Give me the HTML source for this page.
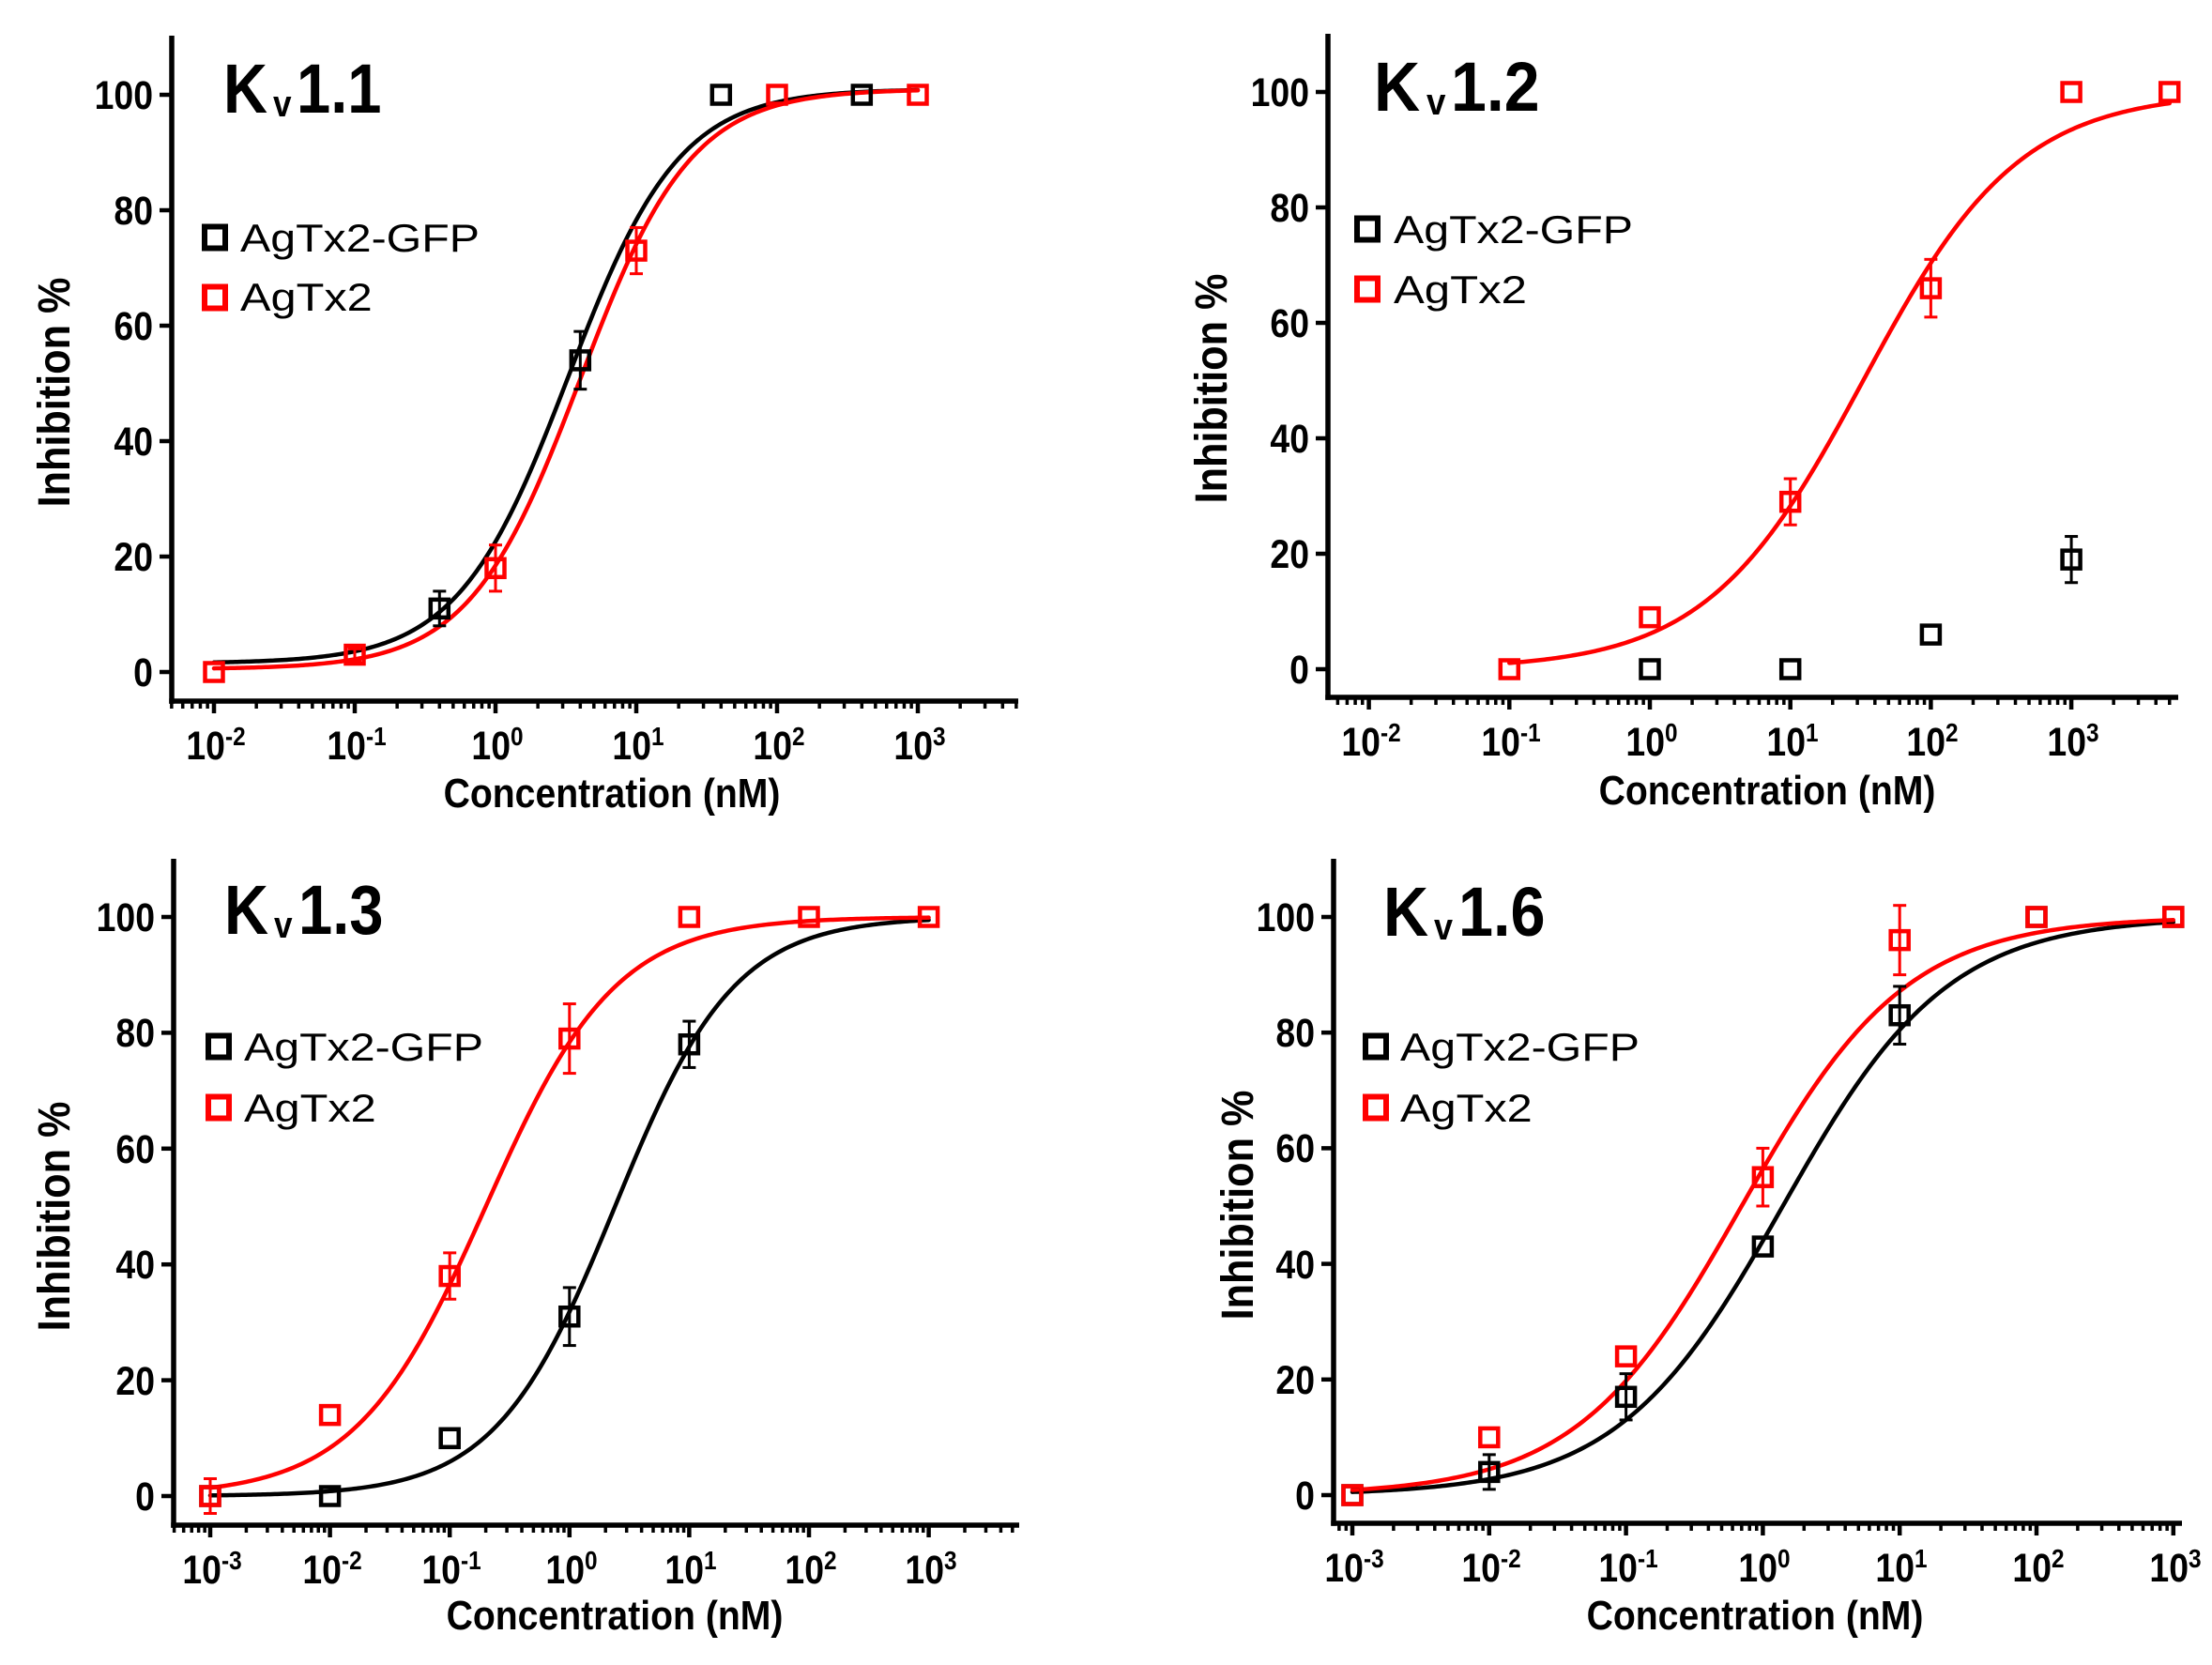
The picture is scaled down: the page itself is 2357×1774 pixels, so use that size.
<!DOCTYPE html>
<html>
<head>
<meta charset="utf-8">
<style>
html,body{margin:0;padding:0;background:#fff;}
svg{display:block;}
text{font-family:"Liberation Sans",Arial,sans-serif;fill:#000;}
.tk{font-size:43px;font-weight:bold;}
.ttl{font-size:74px;font-weight:bold;}
.sub{font-size:40px;font-weight:bold;}
.lg{font-size:42px;}
.xl{font-size:44px;font-weight:bold;}
.yl{font-size:48px;font-weight:bold;}
</style>
</head>
<body>
<svg id="c" xmlns="http://www.w3.org/2000/svg" width="2357" height="1774" viewBox="0 0 2357 1774">
<rect x="0" y="0" width="2357" height="1774" fill="#fff"/>

<!-- ===== Panel 1 text ===== -->
<g class="tk">
<text transform="translate(163,731) scale(0.87,1)" text-anchor="end">0</text>
<text transform="translate(163,608) scale(0.87,1)" text-anchor="end">20</text>
<text transform="translate(163,485) scale(0.87,1)" text-anchor="end">40</text>
<text transform="translate(163,362) scale(0.87,1)" text-anchor="end">60</text>
<text transform="translate(163,239) scale(0.87,1)" text-anchor="end">80</text>
<text transform="translate(163,116) scale(0.87,1)" text-anchor="end">100</text>
<text transform="translate(230,809) scale(0.87,1)" text-anchor="middle">10<tspan font-size="28" dy="-15">-2</tspan></text>
<text transform="translate(380,809) scale(0.87,1)" text-anchor="middle">10<tspan font-size="28" dy="-15">-1</tspan></text>
<text transform="translate(530,809) scale(0.87,1)" text-anchor="middle">10<tspan font-size="28" dy="-15">0</tspan></text>
<text transform="translate(680,809) scale(0.87,1)" text-anchor="middle">10<tspan font-size="28" dy="-15">1</tspan></text>
<text transform="translate(830,809) scale(0.87,1)" text-anchor="middle">10<tspan font-size="28" dy="-15">2</tspan></text>
<text transform="translate(980,809) scale(0.87,1)" text-anchor="middle">10<tspan font-size="28" dy="-15">3</tspan></text>
</g>
<text class="xl" transform="translate(652,860) scale(0.89,1)" text-anchor="middle">Concentration (nM)</text>
<text class="yl" transform="translate(74,418) rotate(-90) scale(0.9,1)" text-anchor="middle">Inhibition %</text>
<text class="ttl" transform="translate(238,120) scale(0.88,1)">K</text>
<text class="sub" transform="translate(291,124) scale(0.88,1)">v</text>
<text class="ttl" transform="translate(316,120) scale(0.88,1)">1.1</text>
<rect x="218" y="241.5" width="22" height="23" fill="none" stroke="#000" stroke-width="6"/>
<rect x="218" y="305.5" width="22" height="23" fill="none" stroke="#f00" stroke-width="6"/>
<text class="lg" transform="translate(256,268) scale(1.15,1)">AgTx2-GFP</text>
<text class="lg" transform="translate(256,331) scale(1.16,1)">AgTx2</text>

<!-- ===== Panel 2 text ===== -->
<g class="tk">
<text transform="translate(1395,728) scale(0.87,1)" text-anchor="end">0</text>
<text transform="translate(1395,605) scale(0.87,1)" text-anchor="end">20</text>
<text transform="translate(1395,482) scale(0.87,1)" text-anchor="end">40</text>
<text transform="translate(1395,359) scale(0.87,1)" text-anchor="end">60</text>
<text transform="translate(1395,236) scale(0.87,1)" text-anchor="end">80</text>
<text transform="translate(1395,113) scale(0.87,1)" text-anchor="end">100</text>
<text transform="translate(1461,805) scale(0.87,1)" text-anchor="middle">10<tspan font-size="28" dy="-15">-2</tspan></text>
<text transform="translate(1610,805) scale(0.87,1)" text-anchor="middle">10<tspan font-size="28" dy="-15">-1</tspan></text>
<text transform="translate(1760,805) scale(0.87,1)" text-anchor="middle">10<tspan font-size="28" dy="-15">0</tspan></text>
<text transform="translate(1910,805) scale(0.87,1)" text-anchor="middle">10<tspan font-size="28" dy="-15">1</tspan></text>
<text transform="translate(2059,805) scale(0.87,1)" text-anchor="middle">10<tspan font-size="28" dy="-15">2</tspan></text>
<text transform="translate(2209,805) scale(0.87,1)" text-anchor="middle">10<tspan font-size="28" dy="-15">3</tspan></text>
</g>
<text class="xl" transform="translate(1883,857) scale(0.89,1)" text-anchor="middle">Concentration (nM)</text>
<text class="yl" transform="translate(1307,414) rotate(-90) scale(0.9,1)" text-anchor="middle">Inhibition %</text>
<text class="ttl" transform="translate(1464,118) scale(0.92,1)">K</text>
<text class="sub" transform="translate(1520,122) scale(0.92,1)">v</text>
<text class="ttl" transform="translate(1546,118) scale(0.92,1)">1.2</text>
<rect x="1446" y="232.5" width="22" height="23" fill="none" stroke="#000" stroke-width="6"/>
<rect x="1446" y="296.5" width="22" height="23" fill="none" stroke="#f00" stroke-width="6"/>
<text class="lg" transform="translate(1485,259) scale(1.15,1)">AgTx2-GFP</text>
<text class="lg" transform="translate(1485,323) scale(1.17,1)">AgTx2</text>

<!-- ===== Panel 3 text ===== -->
<g class="tk">
<text transform="translate(165,1609) scale(0.87,1)" text-anchor="end">0</text>
<text transform="translate(165,1486) scale(0.87,1)" text-anchor="end">20</text>
<text transform="translate(165,1362) scale(0.87,1)" text-anchor="end">40</text>
<text transform="translate(165,1239) scale(0.87,1)" text-anchor="end">60</text>
<text transform="translate(165,1115) scale(0.87,1)" text-anchor="end">80</text>
<text transform="translate(165,992) scale(0.87,1)" text-anchor="end">100</text>
<text transform="translate(226,1687) scale(0.87,1)" text-anchor="middle">10<tspan font-size="28" dy="-15">-3</tspan></text>
<text transform="translate(354,1687) scale(0.87,1)" text-anchor="middle">10<tspan font-size="28" dy="-15">-2</tspan></text>
<text transform="translate(481,1687) scale(0.87,1)" text-anchor="middle">10<tspan font-size="28" dy="-15">-1</tspan></text>
<text transform="translate(609,1687) scale(0.87,1)" text-anchor="middle">10<tspan font-size="28" dy="-15">0</tspan></text>
<text transform="translate(736,1687) scale(0.87,1)" text-anchor="middle">10<tspan font-size="28" dy="-15">1</tspan></text>
<text transform="translate(864,1687) scale(0.87,1)" text-anchor="middle">10<tspan font-size="28" dy="-15">2</tspan></text>
<text transform="translate(992,1687) scale(0.87,1)" text-anchor="middle">10<tspan font-size="28" dy="-15">3</tspan></text>
</g>
<text class="xl" transform="translate(655,1736) scale(0.89,1)" text-anchor="middle">Concentration (nM)</text>
<text class="yl" transform="translate(74,1296) rotate(-90) scale(0.9,1)" text-anchor="middle">Inhibition %</text>
<text class="ttl" transform="translate(239,995) scale(0.88,1)">K</text>
<text class="sub" transform="translate(292,999) scale(0.88,1)">v</text>
<text class="ttl" transform="translate(318,995) scale(0.88,1)">1.3</text>
<rect x="222" y="1103.5" width="22" height="23" fill="none" stroke="#000" stroke-width="6"/>
<rect x="222" y="1168.5" width="22" height="23" fill="none" stroke="#f00" stroke-width="6"/>
<text class="lg" transform="translate(260,1130) scale(1.15,1)">AgTx2-GFP</text>
<text class="lg" transform="translate(260,1195) scale(1.16,1)">AgTx2</text>

<!-- ===== Panel 4 text ===== -->
<g class="tk">
<text transform="translate(1401,1608) scale(0.87,1)" text-anchor="end">0</text>
<text transform="translate(1401,1485) scale(0.87,1)" text-anchor="end">20</text>
<text transform="translate(1401,1362) scale(0.87,1)" text-anchor="end">40</text>
<text transform="translate(1401,1238) scale(0.87,1)" text-anchor="end">60</text>
<text transform="translate(1401,1115) scale(0.87,1)" text-anchor="end">80</text>
<text transform="translate(1401,992) scale(0.87,1)" text-anchor="end">100</text>
<text transform="translate(1443,1685) scale(0.87,1)" text-anchor="middle">10<tspan font-size="28" dy="-15">-3</tspan></text>
<text transform="translate(1589,1685) scale(0.87,1)" text-anchor="middle">10<tspan font-size="28" dy="-15">-2</tspan></text>
<text transform="translate(1735,1685) scale(0.87,1)" text-anchor="middle">10<tspan font-size="28" dy="-15">-1</tspan></text>
<text transform="translate(1880,1685) scale(0.87,1)" text-anchor="middle">10<tspan font-size="28" dy="-15">0</tspan></text>
<text transform="translate(2026,1685) scale(0.87,1)" text-anchor="middle">10<tspan font-size="28" dy="-15">1</tspan></text>
<text transform="translate(2172,1685) scale(0.87,1)" text-anchor="middle">10<tspan font-size="28" dy="-15">2</tspan></text>
<text transform="translate(2318,1685) scale(0.87,1)" text-anchor="middle">10<tspan font-size="28" dy="-15">3</tspan></text>
</g>
<text class="xl" transform="translate(1870,1736) scale(0.89,1)" text-anchor="middle">Concentration (nM)</text>
<text class="yl" transform="translate(1335,1284) rotate(-90) scale(0.9,1)" text-anchor="middle">Inhibition %</text>
<text class="ttl" transform="translate(1474,997) scale(0.9,1)">K</text>
<text class="sub" transform="translate(1528,1001) scale(0.9,1)">v</text>
<text class="ttl" transform="translate(1554,997) scale(0.9,1)">1.6</text>
<rect x="1455" y="1103.5" width="22" height="23" fill="none" stroke="#000" stroke-width="6"/>
<rect x="1455" y="1168.5" width="22" height="23" fill="none" stroke="#f00" stroke-width="6"/>
<text class="lg" transform="translate(1492,1130) scale(1.15,1)">AgTx2-GFP</text>
<text class="lg" transform="translate(1492,1195) scale(1.16,1)">AgTx2</text>

<g id="geo"></g>
</svg>

<script>
(function(){
var NS="http://www.w3.org/2000/svg";
var g=document.getElementById('geo');
function el(tag,a){var e=document.createElementNS(NS,tag);for(var k in a)e.setAttribute(k,a[k]);g.appendChild(e);return e;}
var R='#ff0000',K='#000000';
var panels=[
 {ax:183,ay:747,top:38,right:1085,x0:528,dec:150,Y0:716,ppu:6.15,
  curves:[{c:K,b:1.5,t:101,ic:3.3,n:1.1,f:0.01,to:1000},{c:R,b:0.5,t:101,ic:4.0,n:1.1,f:0.01,to:1000}],
  pts:[{c:K,d:[[0.4,11,3],[4,54,5],[40,100,0],[400,100,0]]},
       {c:R,d:[[0.01,0,0],[0.1,3,1],[1,18,4],[10,73,4],[100,100,0],[1000,100,0]]}]},
 {ax:1415,ay:743,top:36,right:2321,x0:1758,dec:149.7,Y0:713,ppu:6.15,
  curves:[{c:R,b:0,t:100,ic:33,n:0.78,f:0.1,to:5000}],
  pts:[{c:K,d:[[1,0,0],[10,0,0],[100,6,0],[1000,19,4]]},
       {c:R,d:[[0.1,0,0],[1,9,0],[10,29,4],[100,66,5],[1000,100,0],[5000,100,0]]}]},
 {ax:185,ay:1625,top:915,right:1086,x0:606.8,dec:127.6,Y0:1594,ppu:6.17,
  curves:[{c:K,b:0,t:100,ic:2.4,n:0.87,f:0.001,to:1000},{c:R,b:0,t:100,ic:0.2,n:0.8,f:0.001,to:1000}],
  pts:[{c:K,d:[[0.001,0,0],[0.01,0,0],[0.1,10,0],[1,31,5],[10,78,4]]},
       {c:R,d:[[0.001,0,3],[0.01,14,0],[0.1,38,4],[1,79,6],[10,100,0],[100,100,0],[1000,100,0]]}]},
 {ax:1421,ay:1623,top:915,right:2325,x0:1878.4,dec:145.8,Y0:1593,ppu:6.16,
  curves:[{c:K,b:0,t:100,ic:1.4,n:0.72,f:0.001,to:1000},{c:R,b:0,t:100,ic:0.7,n:0.72,f:0.001,to:1000}],
  pts:[{c:K,d:[[0.001,0,0],[0.01,4,3],[0.1,17,4],[1,43,0],[10,83,5],[100,100,0],[1000,100,0]]},
       {c:R,d:[[0.001,0,0],[0.01,10,0],[0.1,24,0],[1,55,5],[10,96,6],[100,100,0],[1000,100,0]]}]}
];
panels.forEach(function(p){
 function X(v){return p.x0+p.dec*Math.log10(v);}
 function Y(v){return p.Y0-p.ppu*v;}
 el('line',{x1:p.ax,y1:p.top,x2:p.ax,y2:p.ay+2.75,stroke:'#000','stroke-width':5.5});
 el('line',{x1:p.ax-2.75,y1:p.ay,x2:p.right,y2:p.ay,stroke:'#000','stroke-width':5.5});
 for(var v=0;v<=100;v+=20){var y=Y(v);el('line',{x1:p.ax-13,y1:y,x2:p.ax,y2:y,stroke:'#000','stroke-width':4.5});}
 for(var d=-5;d<=4;d++){for(var k=1;k<=9;k++){var lv=d+Math.log10(k);var px=p.x0+p.dec*lv;
   if(px<p.ax-0.5||px>p.right+0.5)continue;
   var L=(k==1)?13:8;
   el('line',{x1:px,y1:p.ay,x2:px,y2:p.ay+L,stroke:'#000','stroke-width':(k==1)?4.5:3.5});}}
 p.curves.forEach(function(c){
   var a=Math.log10(c.f),b=Math.log10(c.to),pts=[];
   for(var i=0;i<=300;i++){var lx=a+(b-a)*i/300;var x=Math.pow(10,lx);
     var yv=c.b+(c.t-c.b)/(1+Math.pow(c.ic/x,c.n));pts.push((p.x0+p.dec*lx).toFixed(2)+','+Y(yv).toFixed(2));}
   el('polyline',{points:pts.join(' '),fill:'none',stroke:c.c,'stroke-width':4.5,'stroke-linejoin':'round','stroke-linecap':'round'});
 });
 p.pts.forEach(function(s){
   s.d.forEach(function(q){
     var x=X(q[0]),y=Y(q[1]);
     if(q[2]>0){var e=q[2]*p.ppu;
       el('line',{x1:x,y1:y-e,x2:x,y2:y+e,stroke:s.c,'stroke-width':3});
       el('line',{x1:x-7,y1:y-e,x2:x+7,y2:y-e,stroke:s.c,'stroke-width':3});
       el('line',{x1:x-7,y1:y+e,x2:x+7,y2:y+e,stroke:s.c,'stroke-width':3});}
     el('rect',{x:x-9.5,y:y-9.5,width:19,height:19,fill:'none',stroke:s.c,'stroke-width':4.5});
   });
 });
});
})();
</script>
</body>
</html>
